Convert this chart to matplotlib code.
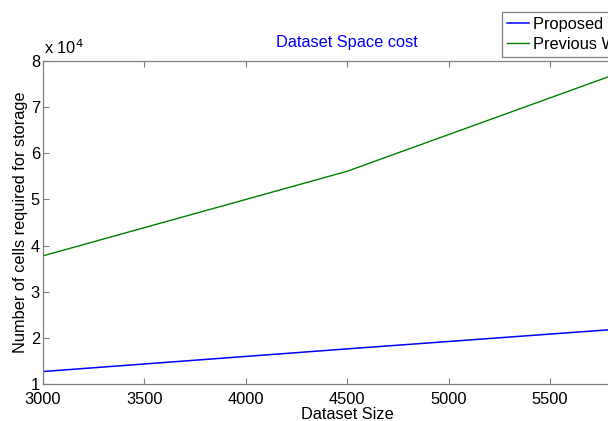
import matplotlib
matplotlib.use("Agg")
import matplotlib.pyplot as plt

# values
dataset_size = [3000, 4500, 6000]
proposed_work = [12800, 17700, 22500]
previous_work = [37800, 56100, 79900]
x_ticks = [3000, 3500, 4000, 4500, 5000, 5500, 6000]
y_ticks = [1, 2, 3, 4, 5, 6, 7, 8]

plt.rcParams['font.family'] = ['Liberation Sans', 'DejaVu Sans']
fs = 11.8

fig = plt.figure(figsize=(6.08, 4.21), dpi=100)
# the reference is a crop: the axes run past the right edge
ax = fig.add_axes([0.0702, 0.0867, 1.0013, 0.769])

scale = 1e4
l1, = ax.plot(dataset_size, [v / scale for v in proposed_work], color=(0, 0, 1), lw=1.1)
l2, = ax.plot(dataset_size, [v / scale for v in previous_work], color=(0, 0.5, 0), lw=1.0)

ax.set_xlim(3000, 6000)
ax.set_ylim(1, 8)
ax.set_xticks(x_ticks)
ax.set_yticks(y_ticks)
ax.tick_params(direction='in', length=4, width=0.8, color='#808080',
               top=True, right=True, labelsize=fs)
ax.tick_params(axis='x', pad=5.5)
ax.tick_params(axis='y', pad=2)
for s in ax.spines.values():
    s.set_color('#808080')
    s.set_linewidth(0.9)

ax.set_title('Dataset Space cost', color=(0, 0, 1), fontsize=fs, pad=10)
ax.set_xlabel('Dataset Size', fontsize=fs, labelpad=0)
ax.set_ylabel('Number of cells required for storage', fontsize=fs, labelpad=2)
ax.text(0.002, 1.012, r'x 10$^{4}$', transform=ax.transAxes, fontsize=fs,
        ha='left', va='bottom')

leg = fig.legend([l1, l2], ['Proposed Work', 'Previous Work'],
                 loc='upper left', bbox_to_anchor=(502 / 608, 1 - 12 / 421),
                 fontsize=fs, fancybox=False, framealpha=1, edgecolor='#808080',
                 handlelength=1.35, handletextpad=0.25, borderpad=0.3,
                 labelspacing=0.3, borderaxespad=0)
leg.get_frame().set_linewidth(0.9)

fig.savefig('out.png', dpi=100)
